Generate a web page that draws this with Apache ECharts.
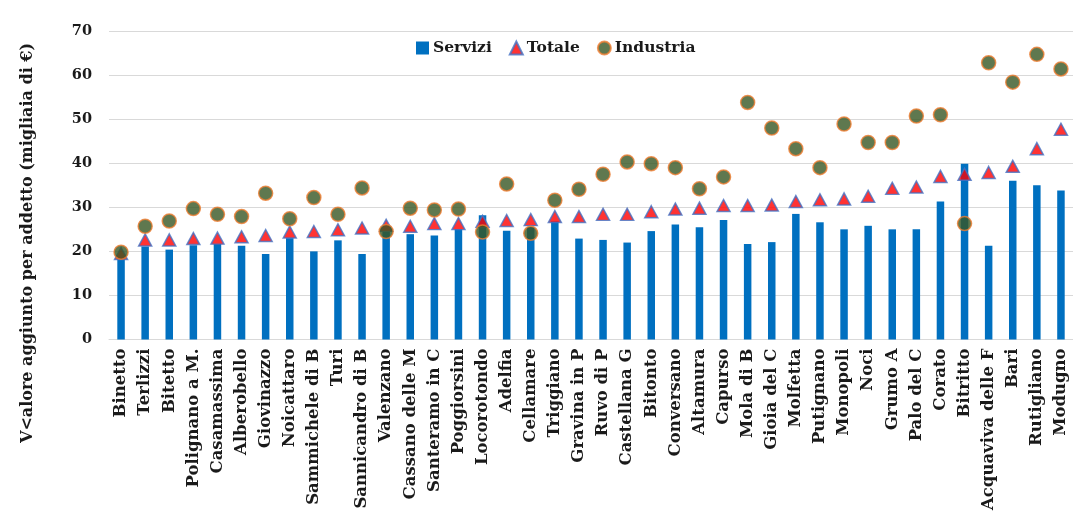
<!DOCTYPE html>
<html>
<head>
<meta charset="utf-8">
<script src="https://cdn.jsdelivr.net/npm/echarts@6/dist/echarts.min.js"></script>
<style>
  html, body { margin: 0; padding: 0; background: #fff; }
  #chart { width: 1073px; height: 513px; }
</style>
</head>
<body>
<div id="chart"></div>
<script>
// Comuni della provincia di Bari, ordinati per valore aggiunto totale
const categories = [
  'Binetto', 'Terlizzi', 'Bitetto', 'Polignano a M.', 'Casamassima', 'Alberobello',
  'Giovinazzo', 'Noicattaro', 'Sammichele di B', 'Turi', 'Sannicandro di B', 'Valenzano',
  'Cassano delle M', 'Santeramo in C', 'Poggiorsini', 'Locorotondo', 'Adelfia', 'Cellamare',
  'Triggiano', 'Gravina in P', 'Ruvo di P', 'Castellana G', 'Bitonto', 'Conversano',
  'Altamura', 'Capurso', 'Mola di B', 'Gioia del C', 'Molfetta', 'Putignano',
  'Monopoli', 'Noci', 'Grumo A', 'Palo del C', 'Corato', 'Bitritto',
  'Acquaviva delle F', 'Bari', 'Rutigliano', 'Modugno'
];

// Valore aggiunto per addetto, migliaia di euro
const servizi = [
  18.5, 21.1, 20.4, 21.4, 21.7, 21.3, 19.4, 23.0, 20.0, 22.5,
  19.4, 24.5, 23.9, 23.6, 25.1, 28.2, 24.7, 25.5, 26.8, 22.9,
  22.6, 22.0, 24.6, 26.1, 25.5, 27.1, 21.7, 22.1, 28.5, 26.6,
  25.0, 25.8, 25.0, 25.0, 31.3, 39.9, 21.3, 36.0, 35.0, 33.8
];
const totale = [
  19.5, 22.6, 22.6, 22.9, 23.0, 23.3, 23.6, 24.4, 24.5, 24.9,
  25.3, 25.9, 25.7, 26.3, 26.3, 26.8, 27.0, 27.2, 27.9, 27.9,
  28.4, 28.4, 29.0, 29.6, 29.8, 30.4, 30.4, 30.5, 31.3, 31.7,
  31.9, 32.5, 34.3, 34.6, 37.0, 37.5, 37.9, 39.3, 43.3, 47.7
];
const industria = [
  19.8, 25.7, 26.9, 29.7, 28.4, 27.9, 33.2, 27.4, 32.2, 28.4,
  34.4, 24.5, 29.8, 29.4, 29.6, 24.4, 35.3, 24.1, 31.6, 34.1,
  37.5, 40.3, 39.9, 39.0, 34.2, 36.9, 53.8, 48.0, 43.3, 39.0,
  48.9, 44.7, 44.7, 50.7, 51.0, 26.3, 62.8, 58.4, 64.7, 61.4
];

const yTicks = { min: 0, max: 70, interval: 10 };
const yAxisTitle = 'V<alore aggiunto per addetto (migliaia di €)';

const serif = '"DejaVu Serif", "Liberation Serif", serif';
const ink = '#1a1a1a';

const chart = echarts.init(document.getElementById('chart'), null, { renderer: 'canvas' });

chart.setOption({
  animation: false,
  backgroundColor: '#ffffff',
  textStyle: { fontFamily: serif },
  grid: { left: 109, right: 0, top: 31, bottom: 173, containLabel: false },
  legend: {
    top: 35,
    left: 411,
    itemGap: 17,
    itemWidth: 13,
    itemHeight: 13,
    textStyle: { fontFamily: serif, fontSize: 15.5, fontWeight: 'bold', color: ink, padding: [0, 0, 0, -1] },
    data: [
      { name: 'Servizi', icon: 'rect', itemStyle: { borderWidth: 0 } },
      { name: 'Totale', icon: 'triangle' },
      { name: 'Industria', icon: 'circle' }
    ]
  },
  xAxis: {
    type: 'category',
    data: categories,
    axisLine: { show: true, lineStyle: { color: '#d9d9d9', width: 1 } },
    axisTick: { show: false },
    axisLabel: {
      interval: 0,
      rotate: 90,
      margin: 9,
      fontFamily: serif,
      fontSize: 16.5,
      fontWeight: 'bold',
      color: ink
    }
  },
  yAxis: {
    type: 'value',
    min: yTicks.min,
    max: yTicks.max,
    interval: yTicks.interval,
    axisLine: { show: false },
    axisTick: { show: false },
    splitLine: { lineStyle: { color: '#d9d9d9', width: 1 } },
    axisLabel: {
      margin: 17,
      fontFamily: serif,
      fontSize: 14.5,
      fontWeight: 'bold',
      color: ink
    }
  },
  graphic: [{
    type: 'text',
    x: 28,
    y: 243,
    rotation: Math.PI / 2,
    style: {
      text: yAxisTitle,
      fontFamily: serif,
      fontSize: 16,
      fontWeight: 'bold',
      fill: ink,
      align: 'center',
      verticalAlign: 'middle'
    }
  }],
  series: [
    {
      name: 'Servizi',
      type: 'bar',
      data: servizi,
      barWidth: 7.5,
      itemStyle: { color: '#0070C0' },
      z: 2
    },
    {
      name: 'Totale',
      type: 'scatter',
      data: totale,
      symbol: 'triangle',
      symbolSize: [13, 12],
      itemStyle: { color: '#FF0000', borderColor: '#4472C4', borderWidth: 1.5 },
      z: 3
    },
    {
      name: 'Industria',
      type: 'scatter',
      data: industria,
      symbol: 'circle',
      symbolSize: 14,
      itemStyle: { color: '#375623', borderColor: '#ED7D31', borderWidth: 1.5 },
      z: 4
    }
  ]
});
</script>
</body>
</html>
